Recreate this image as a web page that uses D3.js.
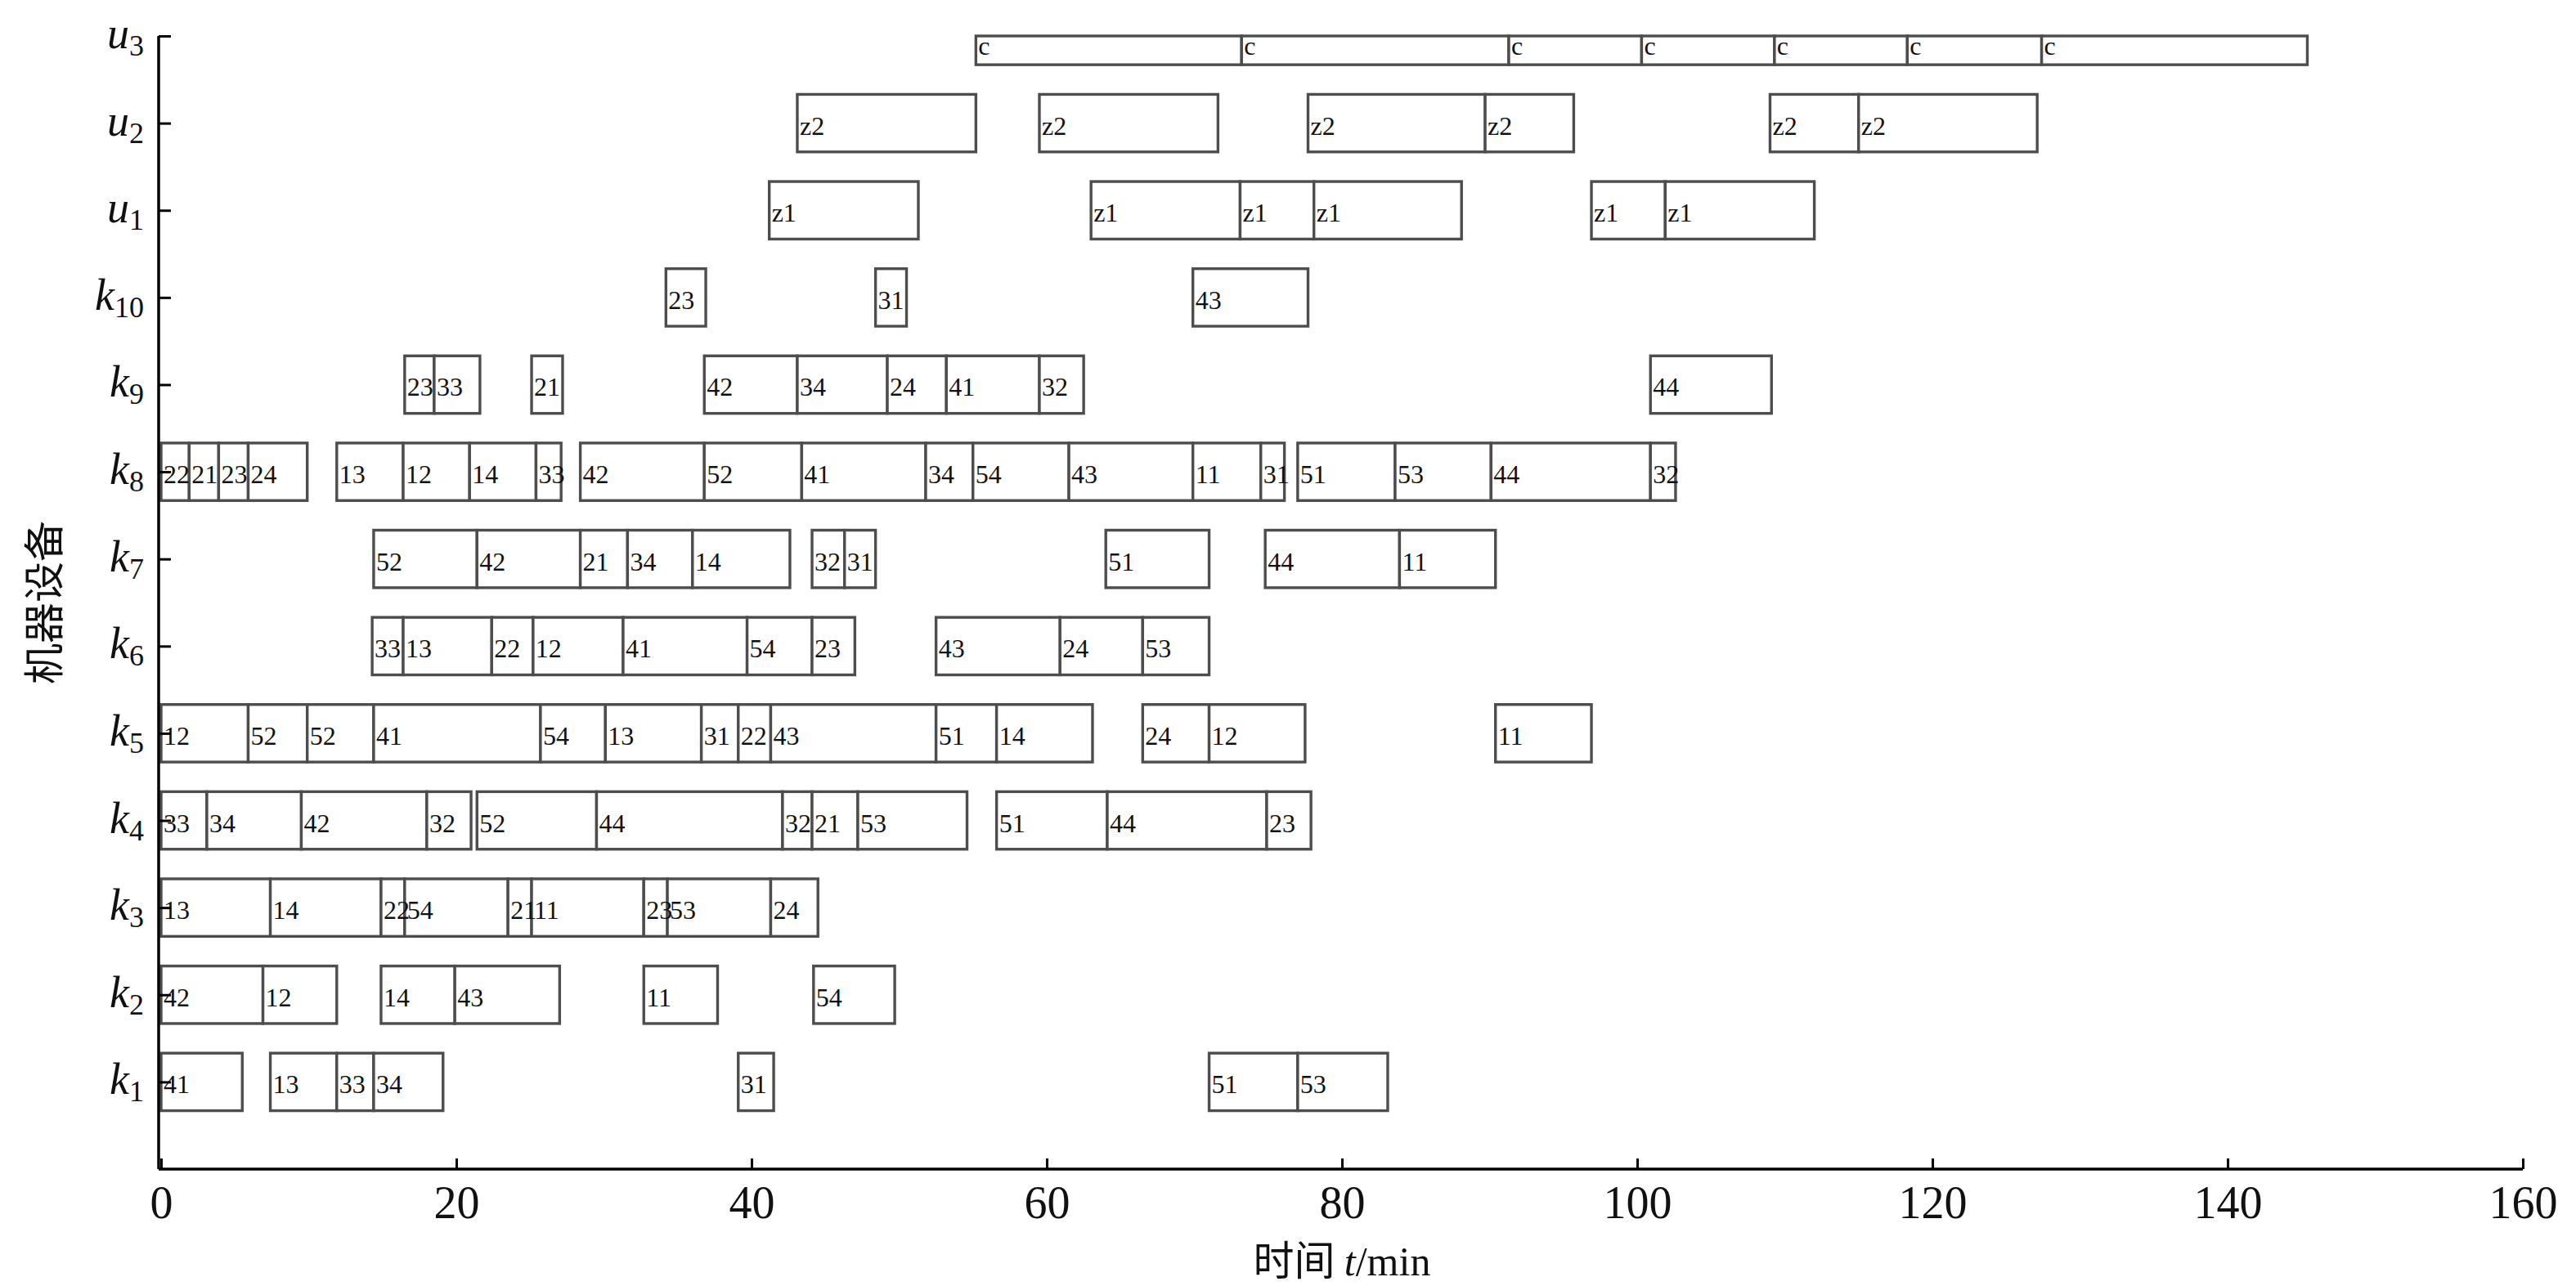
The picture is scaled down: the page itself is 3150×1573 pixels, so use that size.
<!DOCTYPE html>
<html>
<head>
<meta charset="utf-8">
<script src="https://cdn.jsdelivr.net/npm/d3@7/dist/d3.min.js"></script>
<style>
  html, body { margin: 0; padding: 0; background: #fff; }
  svg { display: block; }
</style>
</head>
<body>
<svg id="chart" width="3150" height="1573"></svg>
<script>
// ---------------- data ----------------
const machines = ["k1","k2","k3","k4","k5","k6","k7","k8","k9","k10","u1","u2","u3"];
const xTicks = [0,20,40,60,80,100,120,140,160];
const xLabel = "时间 t/min";
const yLabel = "机器设备";

// each entry: [start, end, operation label]
const sched_k1 = [[0,5.5,"41"],[7.4,11.9,"13"],[11.9,14.4,"33"],[14.4,19.1,"34"],[39.1,41.5,"31"],[71.0,77.0,"51"],[77.0,83.1,"53"]];
const sched_k2 = [[0,6.9,"42"],[6.9,11.9,"12"],[14.9,19.9,"14"],[19.9,27.0,"43"],[32.7,37.7,"11"],[44.2,49.7,"54"]];
const sched_k3 = [[0,7.4,"13"],[7.4,14.9,"14"],[14.9,16.5,"22"],[16.5,23.5,"54"],[23.5,25.1,"21"],[25.1,32.7,"11"],[32.7,34.3,"23"],[34.3,41.3,"53"],[41.3,44.5,"24"]];
const sched_k4 = [[0,3.1,"33"],[3.1,9.5,"34"],[9.5,18.0,"42"],[18.0,21.0,"32"],[21.4,29.5,"52"],[29.5,42.1,"44"],[42.1,44.1,"32"],[44.1,47.2,"21"],[47.2,54.6,"53"],[56.6,64.1,"51"],[64.1,74.9,"44"],[74.9,77.9,"23"]];
const sched_k5 = [[0,5.9,"12"],[5.9,9.9,"52"],[9.9,14.4,"52"],[14.4,25.7,"41"],[25.7,30.1,"54"],[30.1,36.6,"13"],[36.6,39.1,"31"],[39.1,41.3,"22"],[41.3,52.5,"43"],[52.5,56.6,"51"],[56.6,63.1,"14"],[66.5,71.0,"24"],[71.0,77.5,"12"],[90.4,96.9,"11"]];
const sched_k6 = [[14.3,16.4,"33"],[16.4,22.4,"13"],[22.4,25.2,"22"],[25.2,31.3,"12"],[31.3,39.7,"41"],[39.7,44.1,"54"],[44.1,47.0,"23"],[52.5,60.9,"43"],[60.9,66.5,"24"],[66.5,71.0,"53"]];
const sched_k7 = [[14.4,21.4,"52"],[21.4,28.4,"42"],[28.4,31.6,"21"],[31.6,36.0,"34"],[36.0,42.6,"14"],[44.1,46.3,"32"],[46.3,48.4,"31"],[64.0,71.0,"51"],[74.8,83.9,"44"],[83.9,90.4,"11"]];
const sched_k8 = [[0,1.9,"22"],[1.9,3.9,"21"],[3.9,5.9,"23"],[5.9,9.9,"24"],[11.9,16.4,"13"],[16.4,20.9,"12"],[20.9,25.4,"14"],[25.4,27.1,"33"],[28.4,36.8,"42"],[36.8,43.4,"52"],[43.4,51.8,"41"],[51.8,55.0,"34"],[55.0,61.5,"54"],[61.5,69.9,"43"],[69.9,74.5,"11"],[74.5,76.1,"31"],[77.0,83.6,"51"],[83.6,90.1,"53"],[90.1,100.9,"44"],[100.9,102.6,"32"]];
const sched_k9 = [[16.5,18.5,"23"],[18.5,21.6,"33"],[25.1,27.2,"21"],[36.8,43.1,"42"],[43.1,49.2,"34"],[49.2,53.2,"24"],[53.2,59.5,"41"],[59.5,62.5,"32"],[100.9,109.1,"44"]];
const sched_k10 = [[34.2,36.9,"23"],[48.4,50.5,"31"],[69.9,77.7,"43"]];
const sched_u1 = [[41.2,51.3,"z1"],[63.0,73.1,"z1"],[73.1,78.1,"z1"],[78.1,88.1,"z1"],[96.9,101.9,"z1"],[101.9,112.0,"z1"]];
const sched_u2 = [[43.1,55.2,"z2"],[59.5,71.6,"z2"],[77.7,89.7,"z2"],[89.7,95.7,"z2"],[109.0,115.0,"z2"],[115.0,127.1,"z2"]];
const sched_u3 = [[55.2,73.2,"c"],[73.2,91.3,"c"],[91.3,100.3,"c"],[100.3,109.3,"c"],[109.3,118.3,"c"],[118.3,127.4,"c"],[127.4,145.4,"c"]];

const schedules = [sched_k1,sched_k2,sched_k3,sched_k4,sched_k5,sched_k6,sched_k7,sched_k8,sched_k9,sched_k10,sched_u1,sched_u2,sched_u3];

// ---------------- drawing ----------------
const svg = d3.select("#chart");
const x = d3.scaleLinear().domain([0,160]).range([197,3085]);
const y = d3.scaleLinear().domain([0,13]).range([1430,44]);
const half = 0.33;
const yTop = d => Math.max(y(d.row + half), y(13));

const ops = [];
schedules.forEach((list, i) => {
  list.forEach(d => ops.push({row: i + 1, start: d[0], end: d[1], label: d[2]}));
});

const plot = svg.append("g");

plot.selectAll("rect.op").data(ops).join("rect")
  .attr("class","op")
  .attr("x", d => x(d.start))
  .attr("y", d => yTop(d))
  .attr("width", d => x(d.end) - x(d.start))
  .attr("height", d => y(d.row - half) - yTop(d))
  .attr("fill","#fff")
  .attr("stroke","#4d4d4d")
  .attr("stroke-width",3.4);

plot.selectAll("text.op").data(ops).join("text")
  .attr("class","op")
  .attr("x", d => x(d.start) + 3)
  .attr("y", d => Math.max(y(d.row) + 14, yTop(d) + 23))
  .attr("font-family","'Liberation Serif','Times New Roman',serif")
  .attr("font-size",32)
  .attr("fill","#111")
  .text(d => d.label);

// axes lines
const axisG = svg.append("g");
axisG.append("line").attr("x1", x(0) - 3).attr("x2", x(160)).attr("y1", y(0)).attr("y2", y(0))
  .attr("stroke","#000").attr("stroke-width",3.5);
axisG.append("line").attr("x1", x(0) - 3).attr("x2", x(0) - 3).attr("y1", y(13)).attr("y2", y(0))
  .attr("stroke","#000").attr("stroke-width",3.5);

// x axis ticks and labels
const xAxis = d3.axisBottom(x).tickValues(xTicks).tickSizeInner(-13).tickSizeOuter(0).tickPadding(0).tickFormat(d3.format("d"));
const gx = svg.append("g").attr("transform",`translate(0,${y(0)})`).call(xAxis);
gx.select(".domain").remove();
gx.selectAll(".tick line").attr("stroke","#000").attr("stroke-width",3);
gx.selectAll(".tick text")
  .attr("y", 60)
  .attr("dy", null)
  .attr("font-family","'Liberation Serif','Times New Roman',serif")
  .attr("font-size",56)
  .attr("fill","#111");

// y axis ticks
const rowVals = machines.map((m,i) => i + 1);
const yAxis = d3.axisLeft(y).tickValues(rowVals).tickSizeInner(-15).tickSizeOuter(0).tickFormat("");
const gy = svg.append("g").attr("transform",`translate(${x(0) - 3},0)`).call(yAxis);
gy.select(".domain").remove();
gy.selectAll(".tick line").attr("stroke","#000").attr("stroke-width",3);

// y tick labels with subscript
const ylab = svg.append("g");
machines.forEach((m, i) => {
  const t = ylab.append("text")
    .attr("x", 176)
    .attr("y", y(i + 1) + 15)
    .attr("text-anchor","end")
    .attr("font-family","'Liberation Serif','Times New Roman',serif")
    .attr("fill","#111");
  t.append("tspan").attr("font-style","italic").attr("font-size",54).text(m[0]);
  t.append("tspan").attr("font-size",36).attr("dy",9).text(m.slice(1));
});

// axis titles
const xt = svg.append("text")
  .attr("x", (x(0) + x(160)) / 2)
  .attr("y", 1560)
  .attr("text-anchor","middle")
  .attr("font-size",50)
  .attr("fill","#111");
xt.append("tspan").attr("font-family","'Noto Sans CJK SC',sans-serif").text("时间 ");
xt.append("tspan").attr("font-family","'Liberation Serif',serif").attr("font-style","italic").text("t");
xt.append("tspan").attr("font-family","'Liberation Serif',serif").text("/min");

svg.append("text")
  .attr("transform", `translate(72,${(y(0) + y(13)) / 2}) rotate(-90)`)
  .attr("text-anchor","middle")
  .attr("font-family","'Noto Sans CJK SC',sans-serif")
  .attr("font-size",50)
  .attr("fill","#111")
  .text(yLabel);
</script>
</body>
</html>
